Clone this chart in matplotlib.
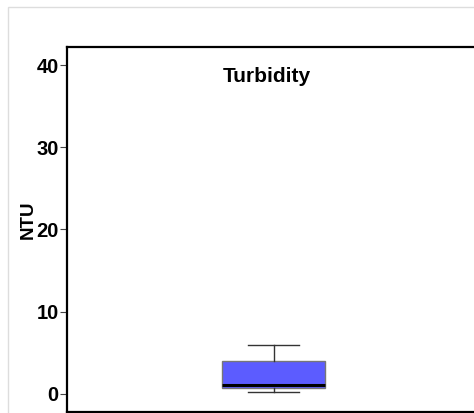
import matplotlib.pyplot as plt
from matplotlib.patches import Rectangle

# Box summary (NTU)
labels = ['Turbidity']
q1_vals = [0.7]
median_vals = [1.1]
q3_vals = [4.05]
whisker_low = [0.28]
whisker_high = [6.0]
yticks = [0, 10, 20, 30, 40]

plt.rcParams['font.family'] = ['Liberation Sans', 'DejaVu Sans']

fig = plt.figure(figsize=(4.74, 4.13), dpi=100)

# light grey frame round the whole chart
fig.patches.append(Rectangle((8 / 474, -0.1), 1.2, 1 - 7 / 413 + 0.1,
                             transform=fig.transFigure, fill=False,
                             edgecolor='#dddddd', linewidth=1))

ax = fig.add_axes([67 / 474, 1.5 / 413, (480 - 67) / 474, (411.5 - 47) / 413])

stats = []
for i in range(len(labels)):
    stats.append({'med': median_vals[i], 'q1': q1_vals[i], 'q3': q3_vals[i],
                  'whislo': whisker_low[i], 'whishi': whisker_high[i],
                  'fliers': [], 'label': labels[i]})

ax.bxp(stats, positions=[1], widths=0.5, patch_artist=True, showfliers=False,
       boxprops=dict(facecolor='#5c5cff', edgecolor='#777777', linewidth=1),
       medianprops=dict(color='black', linewidth=2.2),
       whiskerprops=dict(color='#333333', linewidth=1),
       capprops=dict(color='#333333', linewidth=1),
       capwidths=0.25)

ax.set_xlim(0, 2)
ax.set_ylim(-2.15, 42.2)
ax.set_xticks([])
ax.set_yticks(yticks)
ax.set_yticklabels([str(t) for t in yticks], fontsize=14.5, fontweight='bold')
ax.tick_params(axis='y', length=5, width=0.8, pad=1, color='#444444')
for sp in ax.spines.values():
    sp.set_linewidth(1.6)

ax.set_ylabel('NTU', fontsize=13.5, fontweight='bold')
ax.yaxis.set_label_coords(-0.074, 0.525)
ax.text(0.97, 38.6, labels[0], ha='center', va='center',
        fontsize=15, fontweight='bold')

fig.savefig('out.png', dpi=100)
